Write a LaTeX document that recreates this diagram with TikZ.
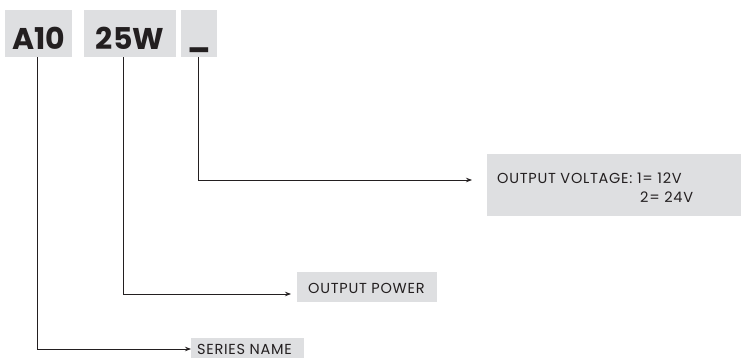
\documentclass[tikz,border=0pt]{standalone}
\usepackage{fontspec}
\setmainfont{Poppins}
\usetikzlibrary{arrows.meta}
\definecolor{boxgray}{HTML}{DEDFE1}
\definecolor{ink}{HTML}{231F20}
\begin{document}
\begin{tikzpicture}[x=1pt,y=-1pt,
  codebox/.style={fill=boxgray,draw=none,inner sep=0pt,text=ink,minimum height=47pt,
    text height=33pt,text depth=0pt,font=\bfseries\fontsize{30}{30}\selectfont},
  labelbox/.style={fill=boxgray,draw=none,inner sep=0pt},
  labeltext/.style={inner sep=0pt,text=ink,anchor=base west,
    font=\fontsize{14.5}{20}\selectfont\addfontfeature{LetterSpace=5}},
  conn/.style={draw=ink,line width=0.8pt,-{Stealth[length=6pt,width=4.5pt]}}]
\useasboundingbox (0,0) rectangle (741,358);
% code boxes
\node[codebox,minimum width=67pt] (a10) at (38.5,33.5) {A10};
\node[codebox,minimum width=92pt] (w25) at (130,33.5) {25W};
\node[codebox,minimum width=36pt] (vv) at (199,33.5) {\raisebox{3pt}{\_}};
% label boxes
\node[labelbox,minimum width=254pt,minimum height=62pt,anchor=north west] (volt) at (487,154) {};
\node[labeltext] (volttxt) at (497,183) {OUTPUT VOLTAGE: 1= 12V};
\node[labeltext] (volttxtb) at (640,203) {2= 24V};
\node[labelbox,minimum width=140pt,minimum height=30pt,anchor=north west] (pow) at (297,272) {};
\node[labeltext] (powtxt) at (308,293) {OUTPUT POWER};
\node[labelbox,minimum width=113pt,minimum height=21pt,anchor=north west] (ser) at (191,338) {};
\node[labeltext] (sertxt) at (197,354) {SERIES NAME};
% coordinates
\coordinate (c1) at (198.5,180);
\coordinate (c2) at (123,294);
\coordinate (c3) at (37.5,349);
\coordinate (e1) at (472,180);
% connectors
\draw[conn] (vv.south -| c1) -- (c1) -- (e1);
\draw[conn] (w25.south -| c2) -- (c2) -- ([xshift=-6pt]pow.west |- c2);
\draw[conn] (a10.south -| c3) -- (c3) -- (ser.west |- c3);
\end{tikzpicture}
\end{document}
